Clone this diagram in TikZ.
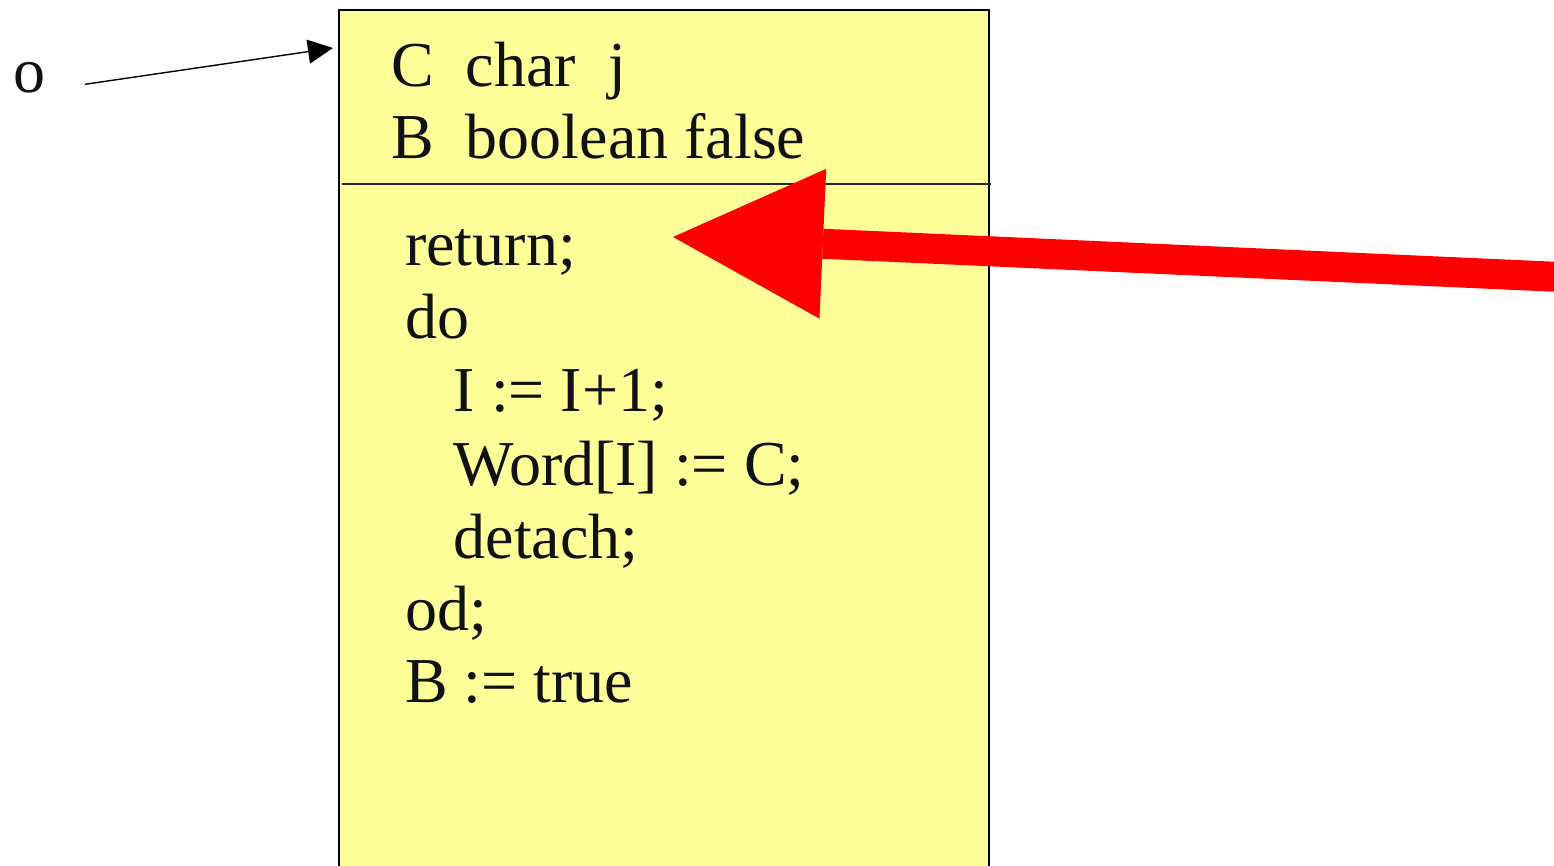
\documentclass[tikz,border=0pt]{standalone}
\usepackage{fontspec}
\setmainfont{Liberation Serif}
\usetikzlibrary{arrows.meta}
\definecolor{boxyellow}{HTML}{FFFF99}
\definecolor{textdark}{HTML}{111111}
\begin{document}
\begin{tikzpicture}[x=1pt,y=-1pt,
  code/.style={anchor=base west, inner sep=0pt, text=textdark,
    font=\fontsize{64}{72.8}\selectfont},
  objbox/.style={draw=black, line width=1.6pt, fill=boxyellow,
    anchor=north west, inner sep=0pt, minimum width=650pt, minimum height=900pt},
  divider/.style={draw=black!85, line width=1.6pt},
  ptr/.style={draw=black, line width=1.4pt, -{Triangle[length=25pt,width=24pt]}},
  bigarrow/.style={draw=red, line width=30pt,
    -{Triangle[length=150pt,width=150pt,line width=0pt]}}]
  \useasboundingbox (0,0) rectangle (1554,866);
  \clip (0,0) rectangle (1554,866);

  % the object frame, running off the bottom edge
  \node[objbox] (obj) at (338,9) {};
  \coordinate (divl) at (342,184);
  \coordinate (divr) at (991,184);
  \draw[divider] (divl) -- (divr);

  % attributes
  \node[code] (cdecl) at (391,86.5) {C\ \ char\ \ j};
  \node[code] (bdecl) at (391,159) {B\ \ boolean false};

  % body
  \node[code] (lret)  at (405,265.7) {return;};
  \node[code] (ldo)   at (405,338)   {do};
  \node[code] (linc)  at (453.5,411.7) {I := I+1;};
  \node[code] (lword) at (453.5,485)   {Word[I] := C;};
  \node[code] (ldet)  at (453.5,558)   {detach;};
  \node[code] (lod)   at (405,630.7) {od;};
  \node[code] (lset)  at (405,702.7) {B := true};

  % reference o pointing at the object
  \node[code] (olabel) at (13,93) {o};
  \coordinate (oref) at (85,84.3);
  \coordinate (objtop) at (333,48);
  \draw[ptr] (oref) -- (objtop);

  % current execution point
  \coordinate (pctail) at (1580,277.9);
  \coordinate (pctip) at (673,237);
  \draw[bigarrow] (pctail) -- (pctip);
\end{tikzpicture}
\end{document}
